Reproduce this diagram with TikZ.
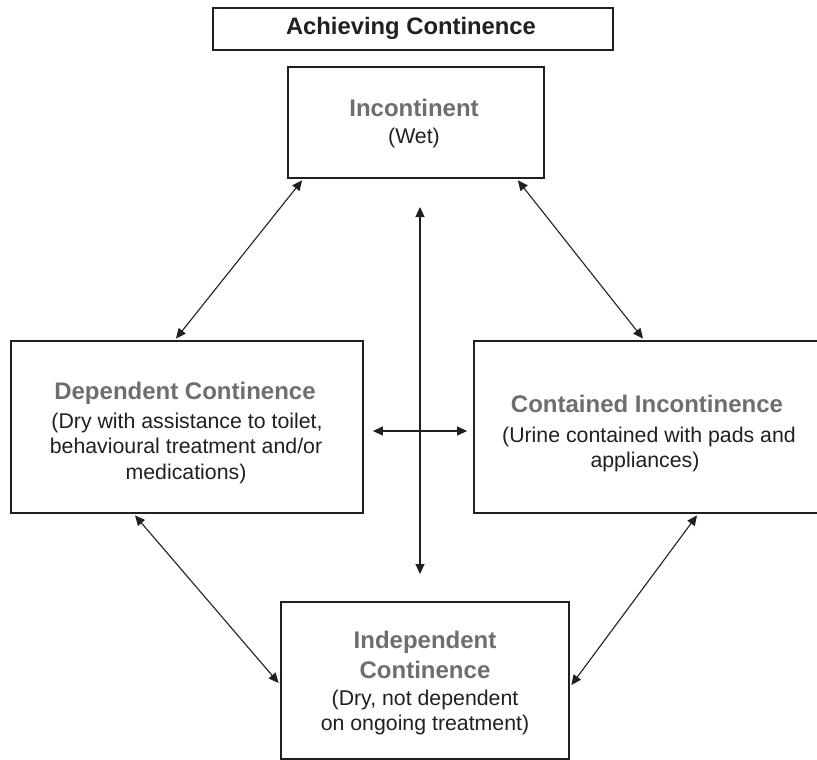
\documentclass[tikz,border=0pt]{standalone}
\usepackage{fontspec}
\setmainfont{Liberation Sans}
\usetikzlibrary{arrows.meta,calc}
\definecolor{inkdark}{RGB}{35,31,32}
\definecolor{headgray}{RGB}{109,110,113}
\begin{document}
\begin{tikzpicture}[x=1pt,y=-1pt,
  box/.style={draw=inkdark, line width=1.8pt, inner sep=0pt, fill=white},
  titletext/.style={font=\fontsize{23.8}{28}\selectfont\bfseries, text=inkdark, anchor=base, inner sep=0pt},
  head/.style={font=\fontsize{24}{29}\selectfont\bfseries, text=headgray, anchor=base, inner sep=0pt},
  body/.style={font=\fontsize{21.3}{25.5}\selectfont, text=inkdark, anchor=base, inner sep=0pt},
  link/.style={{Triangle[length=10pt,width=9pt]}-{Triangle[length=10pt,width=9pt]}, line width=1.1pt, draw=inkdark}]
\useasboundingbox (0,0) rectangle (817,760);

% boxes
\node[box, minimum width=400pt, minimum height=42pt]  (title) at (413,29)    {};
\node[box, minimum width=256pt, minimum height=111pt] (inc)   at (416,122.5) {};
\node[box, minimum width=352pt, minimum height=172pt] (dep)   at (187,427)   {};
\node[box, minimum width=346pt, minimum height=172pt] (con)   at (647,427)   {};
\node[box, minimum width=288pt, minimum height=157pt] (ind)   at (425,680.5) {};

% texts
\node[titletext] (titleT) at (411,35) {Achieving Continence};

\node[head] (incH)  at (414,116) {Incontinent};
\node[body] (incB1) at (414,143) {(Wet)};

\node[head] (depH)  at (185,399)   {Dependent Continence};
\node[body] (depB1) at (187,428)   {(Dry with assistance to toilet,};
\node[body] (depB2) at (186,453.5) {behavioural treatment and/or};
\node[body] (depB3) at (186,479)   {medications)};

\node[head] (conH)  at (647,412) {Contained Incontinence};
\node[body] (conB1) at (649,442) {(Urine contained with pads and};
\node[body] (conB2) at (645,467) {appliances)};

\node[head] (indH1) at (425,648) {Independent};
\node[head] (indH2) at (425,678) {Continence};
\node[body] (indB1) at (425,705) {(Dry, not dependent};
\node[body] (indB2) at (425,730) {on ongoing treatment)};

% connector end points
\coordinate (incSW) at ($(inc.south west)+(15,1.5)$);
\coordinate (incSE) at ($(inc.south east)+(-27,1.5)$);
\coordinate (depN)  at ($(dep.north)+(-11,-1.5)$);
\coordinate (conN)  at ($(con.north)+(-4,-1.5)$);
\coordinate (depS)  at ($(dep.south)+(-52,1.5)$);
\coordinate (conS)  at ($(con.south)+(50,1.5)$);
\coordinate (indW)  at ($(ind.west)+(-1.5,2.5)$);
\coordinate (indE)  at ($(ind.east)+(1.5,4.5)$);
\coordinate (vTop)  at (420,207);
\coordinate (vBot)  at (420,574);
\coordinate (hLeft) at ($(dep.east)+(9,4)$);
\coordinate (hRight) at ($(con.west)+(-6,4)$);

% connectors
\draw[link] (incSW) -- (depN);
\draw[link] (incSE) -- (conN);
\draw[link] (depS) -- (indW);
\draw[link] (conS) -- (indE);
\draw[link] (vTop) -- (vBot);
\draw[link] (hLeft) -- (hRight);
\end{tikzpicture}
\end{document}
